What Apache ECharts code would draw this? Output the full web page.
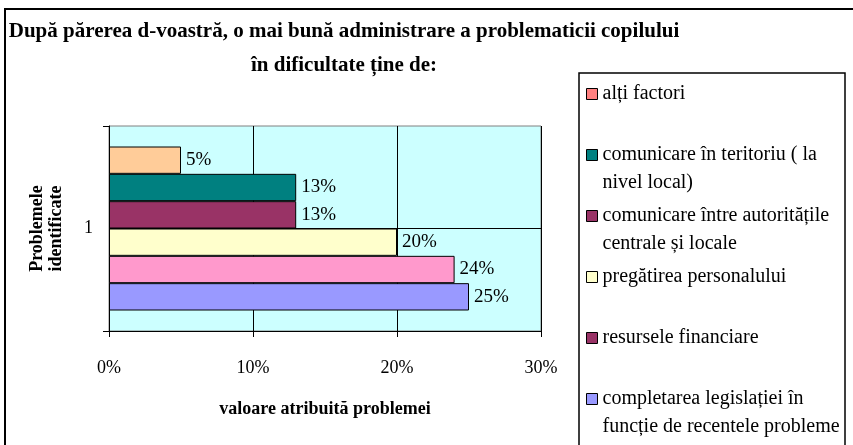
<!DOCTYPE html>
<html>
<head>
<meta charset="utf-8">
<script src="https://cdn.jsdelivr.net/npm/echarts@6/dist/echarts.min.js"></script>
<style>
  html, body { margin: 0; padding: 0; background: #fff; }
  #chart { width: 853px; height: 445px; }
</style>
</head>
<body>
<div id="chart"></div>
<script>
const categories = ['1'];
const seriesNames = [
  'alți factori',
  'comunicare în teritoriu ( la\nnivel local)',
  'comunicare între autoritățile\ncentrale și locale',
  'pregătirea personalului',
  'resursele financiare',
  'completarea legislației în\nfuncție de recentele probleme'
];
const values = [5, 13, 13, 20, 24, 25];
const barColors = ['#FFCC99', '#008080', '#993366', '#FFFFCC', '#FF99CC', '#9999FF'];
// legend swatches differ from the bars in the original
const legendColors = ['#FF8080', '#008080', '#993366', '#FFFFCC', '#993366', '#9999FF'];
const xTicks = [0, 10, 20, 30];

const FONT = '"Liberation Serif", "Times New Roman", serif';

const chart = echarts.init(document.getElementById('chart'));

const series = seriesNames.map((name, i) => ({
  name,
  type: 'bar',
  data: [values[i]],
  barGap: 0,
  barCategoryGap: '20%',
  itemStyle: { color: barColors[i], borderColor: '#000', borderWidth: 1 },
  label: {
    show: true,
    position: 'right',
    distance: 5,
    formatter: '{c}%',
    fontFamily: FONT,
    fontSize: 19,
    color: '#000'
  }
}));

const option = {
  animation: false,
  backgroundColor: '#fff',
  textStyle: { fontFamily: FONT },
  title: {
    text: 'După părerea d-voastră, o mai bună administrare a problematicii copilului\nîn dificultate ține de:',
    left: 344,
    top: 15,
    padding: 0,
    textAlign: 'center',
    textStyle: { fontFamily: FONT, fontSize: 21, fontWeight: 'bold', lineHeight: 34, color: '#000' }
  },
  legend: {
    orient: 'vertical',
    left: 586,
    top: 80,
    padding: 0,
    itemGap: 5,
    itemWidth: 11,
    itemHeight: 39,
    selectedMode: false,
    icon: 'path://M0,0L11,0L11,11L0,11Z M11,39',
    formatter: name => name.includes('\n') ? name : name + '\n ',
    textStyle: { fontFamily: FONT, fontSize: 20, lineHeight: 28, color: '#000' },
    data: seriesNames.map((name, i) => ({
      name,
      itemStyle: { color: legendColors[i], borderColor: '#000', borderWidth: 1 }
    }))
  },
  grid: {
    left: 109,
    right: 312,
    top: 126,
    bottom: 114,
    show: true,
    backgroundColor: '#CCFFFF',
    borderColor: '#808080',
    borderWidth: 1
  },
  xAxis: {
    type: 'value',
    min: xTicks[0],
    max: xTicks[xTicks.length - 1],
    interval: 10,
    name: 'valoare atribuită problemei',
    nameLocation: 'middle',
    nameGap: 69,
    nameTextStyle: { fontFamily: FONT, fontSize: 18, fontWeight: 'bold', color: '#000' },
    axisLine: { show: true, lineStyle: { color: '#000', width: 1 } },
    axisTick: { show: true, length: 6, lineStyle: { color: '#000' } },
    axisLabel: { formatter: '{value}%', margin: 28, fontFamily: FONT, fontSize: 18, color: '#000' },
    splitLine: { show: true, lineStyle: { color: '#000', width: 1 } }
  },
  yAxis: [
    {
      type: 'category',
      data: categories,
      name: 'Problemele\nidentificate',
      nameLocation: 'middle',
      nameRotate: 90,
      nameGap: 43,
      nameTextStyle: { fontFamily: FONT, fontSize: 18, fontWeight: 'bold', lineHeight: 19, color: '#000' },
      axisLine: { show: true, lineStyle: { color: '#000', width: 1 } },
      axisTick: { show: true, length: 6, lineStyle: { color: '#000' } },
      axisLabel: { margin: 16, fontFamily: FONT, fontSize: 18, color: '#000' },
      splitLine: { show: false }
    },
    {
      // helper axis: only gives the horizontal gridline through the middle
      type: 'value',
      min: 0,
      max: 2,
      interval: 1,
      axisLine: { show: false },
      axisTick: { show: false },
      axisLabel: { show: false },
      splitLine: { show: true, showMinLine: false, showMaxLine: false, lineStyle: { color: '#000', width: 1 } }
    }
  ],
  graphic: [
    {
      type: 'rect',
      silent: true,
      shape: { x: 5, y: 9, width: 900, height: 500 },
      style: { fill: 'none', stroke: '#000', lineWidth: 2 }
    },
    {
      type: 'rect',
      silent: true,
      shape: { x: 579, y: 73, width: 266, height: 400 },
      style: { fill: 'none', stroke: '#000', lineWidth: 1.5 }
    }
  ],
  series
};

chart.setOption(option);
window.addEventListener('resize', () => chart.resize());
</script>
</body>
</html>
